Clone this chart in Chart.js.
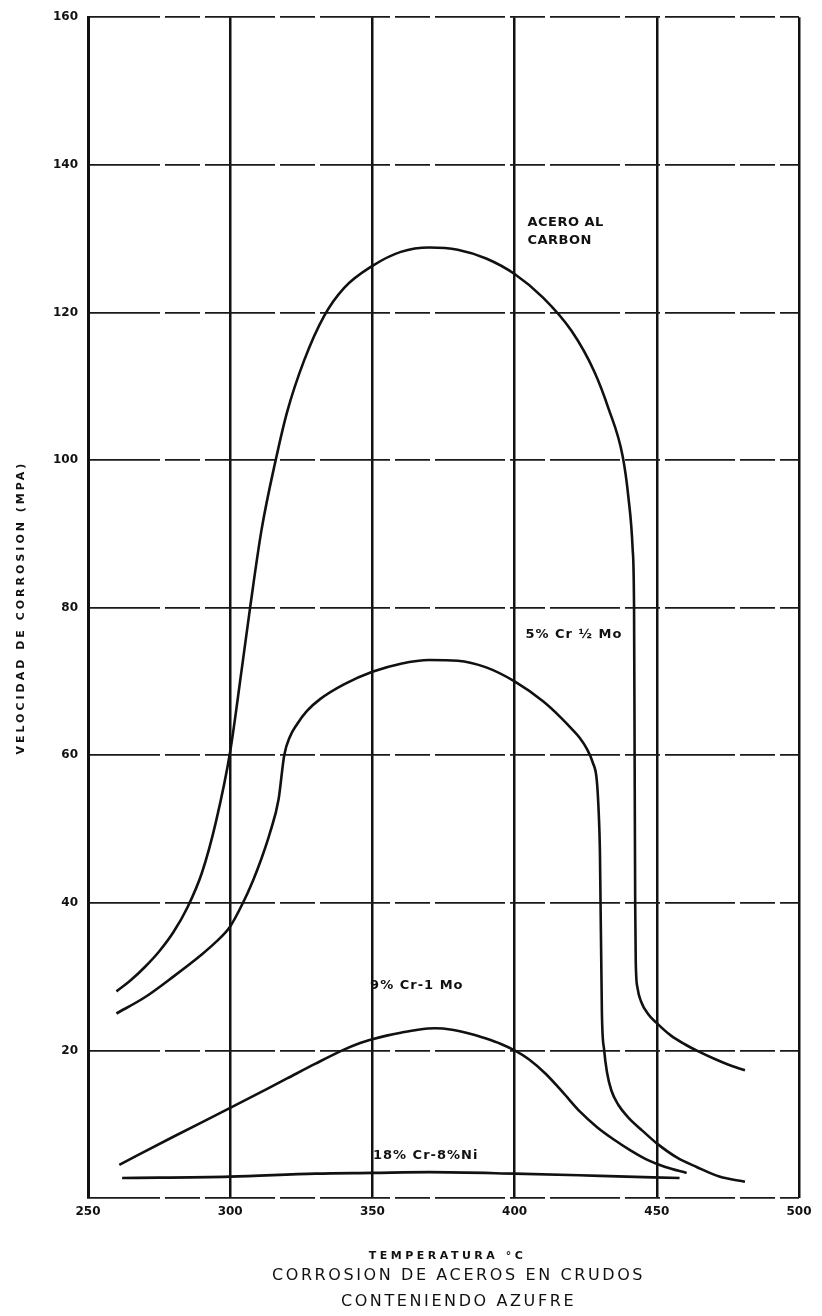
<!DOCTYPE html>
<html>
<head>
<meta charset="utf-8">
<script src="https://cdn.jsdelivr.net/npm/chart.js@4.4.1/dist/chart.umd.min.js"></script>
<style>
  html, body { margin: 0; padding: 0; background: #ffffff; }
  #wrap { width: 822px; height: 1316px; position: relative; }
</style>
</head>
<body>
<div id="wrap"><canvas id="c" width="822" height="1316"></canvas></div>
<script>
// ---------- data ----------
const carbonT = [260, 265, 270, 275, 280, 285, 290, 295, 300, 304, 307, 311, 316, 320, 326, 333, 340, 350, 360, 370, 380, 390, 400, 410, 420, 428, 433, 438, 440, 441.5, 442, 442.2, 442.4, 442.6, 443.2, 444.5, 447, 450, 455, 460, 465, 470, 475, 481];
const carbonV = [28, 29.5, 31.3, 33.4, 36, 39.4, 44, 51, 60.5, 71.5, 80, 90.5, 100, 106.5, 113.5, 119.5, 123.3, 126.3, 128.2, 128.8, 128.5, 127.3, 125.2, 122, 117.5, 112, 107, 100.5, 95, 88, 80, 60, 40, 32, 28.5, 26.6, 24.9, 23.7, 22, 20.8, 19.8, 18.9, 18.1, 17.3];

const cr5T = [260, 270, 280, 290, 295, 300, 304.5, 308, 311, 314, 317, 319, 321, 323.5, 327, 331.6, 340, 350, 360, 370, 380, 390, 400, 410, 416, 420, 423, 425.5, 427.5, 428.9, 429.6, 430, 430.7, 431.5, 432.5, 434, 436.5, 440, 445, 450, 457, 464, 472, 481];
const cr5V = [25, 27.2, 30, 33, 34.7, 36.8, 40, 43, 46, 49.5, 54, 60, 62.5, 64.2, 66, 67.6, 69.6, 71.3, 72.4, 72.9, 72.8, 71.9, 70, 67.3, 65.2, 63.6, 62.3, 60.8, 59, 56.6, 52, 47, 25, 20, 17, 14.6, 12.6, 10.9, 9.1, 7.4, 5.5, 4.2, 2.9, 2.2];

const cr9T = [261, 280, 300, 320, 330, 340, 345, 350, 355, 360, 366, 372, 378, 385, 390, 395, 400, 405, 411, 417, 423, 429, 435, 441, 446.5, 453, 460.5];
const cr9V = [4.5, 8.3, 12.2, 16.2, 18.2, 20.1, 20.9, 21.5, 22, 22.4, 22.8, 23, 22.8, 22.2, 21.6, 20.9, 20, 18.8, 16.8, 14.3, 11.7, 9.6, 7.9, 6.4, 5.2, 4.2, 3.4];

const cr18T = [262, 300, 330, 350, 370, 400, 430, 458];
const cr18V = [2.7, 2.9, 3.3, 3.4, 3.5, 3.3, 3.0, 2.7];

const xTicks = [250, 300, 350, 400, 450, 500];
const yTicks = [20, 40, 60, 80, 100, 120, 140, 160];

const curveNames = ['ACERO AL CARBON', '5% Cr ½ Mo', '9% Cr-1 Mo', '18% Cr-8%Ni'];
const labelTexts = ['ACERO AL', 'CARBON', '5% Cr ½ Mo', '9% Cr-1 Mo', '18% Cr-8%Ni'];
const labelT = [404.5, 404.5, 403.8, 349.2, 350.2];
const labelV = [132.1, 129.7, 76.4, 28.8, 5.8];

const xTitle = 'TEMPERATURA °C';
const yTitle = 'VELOCIDAD DE CORROSION (MPA)';
const captionLines = ['CORROSION DE ACEROS EN CRUDOS', 'CONTENIENDO AZUFRE'];

// ---------- build ----------
const INK = '#111111';
const pairs = (xs, ys) => xs.map((t, i) => ({ x: t, y: ys[i] }));
const series = [pairs(carbonT, carbonV), pairs(cr5T, cr5V), pairs(cr9T, cr9V), pairs(cr18T, cr18V)];

const datasets = series.map((d, i) => ({
  label: curveNames[i],
  data: d,
  borderColor: INK,
  borderWidth: 2.6,
  pointRadius: 0,
  cubicInterpolationMode: 'monotone',
  fill: false
}));

const textPlugin = {
  id: 'textPlugin',
  afterDatasetsDraw(chart) {
    const { ctx, scales: { x, y } } = chart;
    ctx.save();
    ctx.fillStyle = INK;
    ctx.textAlign = 'left';
    ctx.textBaseline = 'middle';
    labelTexts.forEach((txt, i) => {
      ctx.font = 'bold 13px "DejaVu Sans"';
      ctx.letterSpacing = i >= 2 ? '1px' : '0.5px';
      ctx.fillText(txt, x.getPixelForValue(labelT[i]), y.getPixelForValue(labelV[i]));
    });
    ctx.restore();
  },
  afterDraw(chart) {
    const { ctx, chartArea: a } = chart;
    const cx = (a.left + a.right) / 2;
    ctx.save();
    ctx.fillStyle = INK;
    ctx.textAlign = 'center';
    ctx.textBaseline = 'middle';
    // x axis title
    ctx.font = 'bold 11px "DejaVu Sans"';
    ctx.letterSpacing = '3.5px';
    ctx.fillText(xTitle, cx + 4, a.bottom + 58);
    // captions
    ctx.font = '16px "DejaVu Sans"';
    ctx.letterSpacing = '2.6px';
    ctx.fillText(captionLines[0], cx + 15, a.bottom + 78);
    ctx.fillText(captionLines[1], cx + 15, a.bottom + 104);
    // y axis title
    ctx.translate(21, (a.top + a.bottom) / 2);
    ctx.rotate(-Math.PI / 2);
    ctx.font = 'bold 11px "DejaVu Sans"';
    ctx.letterSpacing = '3px';
    ctx.fillText(yTitle, 0, 0);
    ctx.restore();
  }
};

new Chart(document.getElementById('c'), {
  type: 'line',
  data: { datasets },
  options: {
    responsive: false,
    animation: false,
    devicePixelRatio: 1,
    layout: { padding: { top: 15, right: 23, bottom: 0, left: 0 } },
    plugins: { legend: { display: false }, tooltip: { enabled: false }, title: { display: false } },
    scales: {
      x: {
        type: 'linear',
        min: xTicks[0],
        max: xTicks[xTicks.length - 1],
        afterBuildTicks: s => { s.ticks = xTicks.map(v => ({ value: v })); },
        afterFit: s => { s.height = 118; },
        ticks: {
          color: INK,
          padding: 7,
          maxRotation: 0,
          font: { family: 'DejaVu Sans', size: 12, weight: 'bold' }
        },
        grid: { color: INK, lineWidth: 2.5, drawTicks: false },
        border: { display: false }
      },
      y: {
        type: 'linear',
        min: 0,
        max: 160,
        afterBuildTicks: s => { s.ticks = [0].concat(yTicks).map(v => ({ value: v })); },
        afterFit: s => { s.width = 88; },
        ticks: {
          color: INK,
          padding: 10,
          callback: v => (v === 0 ? '' : String(v)),
          font: { family: 'DejaVu Sans', size: 12, weight: 'bold' }
        },
        grid: { color: '#1a1a1a', lineWidth: 1.7, drawTicks: false },
        border: { display: true, color: INK, width: 3, dash: [70, 5, 35, 5] }
      }
    }
  },
  plugins: [textPlugin]
});
</script>
</body>
</html>
